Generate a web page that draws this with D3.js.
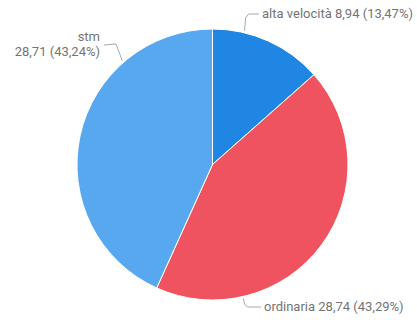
<!DOCTYPE html>
<html>
<head>
<meta charset="utf-8">
<script src="https://cdn.jsdelivr.net/npm/d3@7"></script>
<style>
  body { margin: 0; background: #fff; }
  text { font-family: Roboto, "Noto Sans", sans-serif; font-size: 13px; fill: #747474; }
</style>
</head>
<body>
<svg id="chart"></svg>
<script>
// data
let categories = ["alta velocità", "ordinaria", "stm"];
let values = [8.94, 28.74, 28.71];
let percents = ["13,47%", "43,29%", "43,24%"];
let colors = ["#1f86e3", "#ef5360", "#58a8f0"];

function drawPie(){
    let width = 417;
    let height = 320;
    let cx = 212.5, cy = 164.5, radius = 135.5;
    let svg = d3.select("#chart").attr("width", width).attr("height", height);

    let rows = categories.map((c, i) => ({name: c, value: values[i], pct: percents[i], color: colors[i]}));
    let pie = d3.pie().sort(null).value(d => d.value);
    let arc = d3.arc().innerRadius(0).outerRadius(radius);
    let arcs = pie(rows);

    let body = svg.append("g").attr("transform", `translate(${cx},${cy})`);
    body.selectAll("path").data(arcs).enter().append("path")
        .attr("d", arc)
        .attr("fill", d => d.data.color)
        .attr("stroke", "#fff")
        .attr("stroke-width", 1);

    // connectors: start on the rim at an angle inside each slice
    let fmt = v => d3.format(".2f")(v).replace(".", ",");
    let rim = (a, r) => [cx + r * Math.sin(a), cy - r * Math.cos(a)];
    let toRad = deg => deg * Math.PI / 180;

    let labels = [
        {i: 0, ang: 13.5, pts: p => [p, [p[0] + 1, 18], [p[0] + 4, 14], [259, 14]]},
        {i: 1, ang: 167, pts: p => [p, [p[0] + 1, 304], [p[0] + 4, 307], [261, 307]]},
        {i: 2, ang: 319, pts: p => [p, [116, 44], [104, 45]]}
    ];
    let line = d3.line();
    labels.forEach(l => {
        let p = rim(toRad(l.ang), radius + 2);
        svg.append("path")
            .attr("d", line(l.pts(p)))
            .attr("fill", "none")
            .attr("stroke", "#a8a8a8")
            .attr("stroke-width", 1);
    });

    svg.append("text").attr("x", 262).attr("y", 18)
        .text(`${rows[0].name} ${fmt(rows[0].value)} (${rows[0].pct})`);
    svg.append("text").attr("x", 264).attr("y", 311)
        .text(`${rows[1].name} ${fmt(rows[1].value)} (${rows[1].pct})`);
    svg.append("text").attr("x", 100).attr("y", 41).attr("text-anchor", "end")
        .text(rows[2].name);
    svg.append("text").attr("x", 100).attr("y", 56).attr("text-anchor", "end")
        .text(`${fmt(rows[2].value)} (${rows[2].pct})`);
}

drawPie();
</script>
</body>
</html>
